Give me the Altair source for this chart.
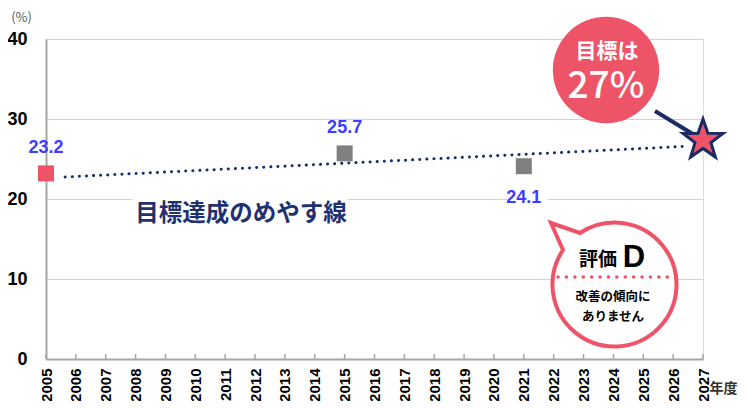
import math
import altair as alt
import pandas as pd

# ---------------- data ----------------
years = [2005, 2015, 2021]
values = [23.2, 25.7, 24.1]
kinds = ["基準値", "実績", "実績"]
labels = ["23.2", "25.7", "24.1"]
trend_years = [2005.64, 2026.5]
trend_values = [22.75, 26.6]
target_year = [2027]
target_value = [27]
tick_years = list(range(2005, 2028))
y_ticks = [0, 10, 20, 30, 40]

# ---------------- styles ----------------
PINK = "#EE5468"
NAVY = "#1B2B66"
GRAY_MARK = "#808080"
BLUE = "#3D3DFF"
AXIS_GRAY = "#A6A6A6"
JP = "Noto Sans CJK JP"
LAT = "Liberation Sans"
W, H = 657, 320

df = pd.DataFrame({"year": years, "value": values, "kind": kinds, "label": labels})
trend = pd.DataFrame({"year": trend_years, "value": trend_values})
target = pd.DataFrame({"year": target_year, "value": target_value})
ticks = pd.DataFrame({"year": tick_years})
one = pd.DataFrame({"a": [0]})

x_scale = alt.Scale(domain=[2005, 2027], nice=False, zero=False)
y_scale = alt.Scale(domain=[0, 40], nice=False, zero=True)

X = alt.X(
    "year:Q", scale=x_scale, title="年度",
    axis=alt.Axis(
        values=tick_years, format="d", labelAngle=-90, labelAlign="right",
        labelBaseline="middle", labelFontSize=15, labelFontWeight="bold",
        labelColor="black", labelFont=LAT, labelPadding=9, ticks=False, tickSize=0,
        domainColor=AXIS_GRAY, domainWidth=2, grid=False, labelOverlap=False,
        labelFlush=False, titleX=677, titleY=29, titleAngle=0, titleAlign="center",
        titleBaseline="middle", titleFontSize=14, titleFont=JP,
        titleFontWeight="bold", titleColor="#333333",
    ),
)
Y = alt.Y(
    "value:Q", scale=y_scale, title="(%)",
    axis=alt.Axis(
        values=y_ticks, ticks=False, tickSize=0, labelFontSize=18,
        labelFontWeight="bold", labelColor="black", labelFont=LAT, labelPadding=19,
        domainColor=AXIS_GRAY, domainWidth=2, grid=True, gridColor="#D2D2D2",
        gridWidth=1.2, titleAngle=0, titleX=-25, titleY=-22, titleAlign="center",
        titleBaseline="middle", titleFontSize=13, titleFontWeight="normal",
        titleColor="#595959", titleFont=JP,
    ),
)

def txt(text, x, y, size, color="black", weight="bold", font=JP, **kw):
    return alt.Chart(one).mark_text(
        text=text, fontSize=size, fontWeight=weight, font=font, color=color,
        align="center", baseline="middle", **kw
    ).encode(x=alt.value(x), y=alt.value(y))

def rect(x1, x2, y1, y2, color="white"):
    return alt.Chart(one).mark_rect(color=color).encode(
        x=alt.value(x1), x2=alt.value(x2), y=alt.value(y1), y2=alt.value(y2)
    )

# white backgrounds hiding gridlines behind texts
bg1 = rect(86, 302, 150, 185)
bg2 = rect(461, 502, 151, 168)

trend_line = alt.Chart(trend).mark_line(
    color=NAVY, strokeWidth=3, strokeDash=[0.1, 7], strokeCap="round"
).encode(x=X, y=Y)

squares = alt.Chart(df).mark_point(
    shape="square", size=256, filled=True, opacity=1
).encode(
    x=X, y=Y,
    color=alt.Color("kind:N", scale=alt.Scale(domain=["基準値", "実績"],
                                              range=[PINK, GRAY_MARK]), legend=None),
)

labels_above = alt.Chart(df).transform_filter("datum.year != 2021").mark_text(
    dy=-25, fontSize=18, fontWeight="bold", font=LAT, color=BLUE
).encode(x=X, y=Y, text="label:N")
labels_below = alt.Chart(df).transform_filter("datum.year == 2021").mark_text(
    dy=32, fontSize=18, fontWeight="bold", font=LAT, color=BLUE
).encode(x=X, y=Y, text="label:N")

trend_text = txt("目標達成のめやす線", 195, 175, 23.5, color="#1F3170")

# target callout
connector = alt.Chart(one).mark_rule(color=NAVY, strokeWidth=4).encode(
    x=alt.value(609), y=alt.value(72), x2=alt.value(655), y2=alt.value(100)
)
pink_circle = alt.Chart(one).mark_point(
    shape="circle", size=math.pi * 60 ** 2, filled=True, opacity=1, color=PINK
).encode(x=alt.value(560), y=alt.value(31))
circ_t1 = txt("目標は", 561, 13, 21, color="white")
circ_t2 = txt("27%", 560, 48, 37, color="white", weight=500)

pts = []
for k in range(10):
    ang = math.radians(-90 + 36 * k)
    r = 1.0 if k % 2 == 0 else 0.40
    pts.append(f"{r * math.cos(ang):.4f},{r * math.sin(ang):.4f}")
STAR = "M" + "L".join(pts) + "Z"
star = alt.Chart(target).mark_point(
    shape=STAR, size=1764, filled=True, fill=PINK, stroke=NAVY, strokeWidth=3,
    opacity=1, yOffset=-3
).encode(x=X, y=Y)

# evaluation speech bubble
BUBBLE = "M-63,-62L-34,-52A62,62,0,1,1,-51,-35Z"
bubble = alt.Chart(one).mark_point(
    shape=BUBBLE, size=4, filled=True, fill="white", stroke=PINK, strokeWidth=4,
    opacity=1
).encode(x=alt.value(568), y=alt.value(246))
bub_dots = alt.Chart(one).mark_rule(
    color=PINK, strokeWidth=3.5, strokeDash=[0.1, 8.3], strokeCap="round"
).encode(x=alt.value(512), x2=alt.value(624), y=alt.value(238))
bub_t1 = txt("評価", 552, 221, 19)
bub_t2 = txt("D", 588, 219, 31, font=LAT)
bub_t3 = txt("改善の傾向に", 567, 258, 12.5)
bub_t4 = txt("ありません", 567, 278, 12.5)

inner_ticks = alt.Chart(ticks).mark_rule(color=AXIS_GRAY, strokeWidth=1.5).encode(
    x=X, y=alt.value(H - 5), y2=alt.value(H)
)

chart = alt.layer(
    trend_line, bg1, bg2, squares, labels_above, labels_below, trend_text,
    connector, pink_circle, circ_t1, circ_t2, star,
    bubble, bub_dots, bub_t1, bub_t2, bub_t3, bub_t4, inner_ticks,
).properties(
    width=W, height=H, autosize="none",
    padding={"left": 38, "top": 31, "right": 36, "bottom": 42},
).configure_view(stroke=AXIS_GRAY, strokeWidth=2).configure(background="white")

chart.save("out.html", embed_options={"renderer": "svg", "actions": False})
